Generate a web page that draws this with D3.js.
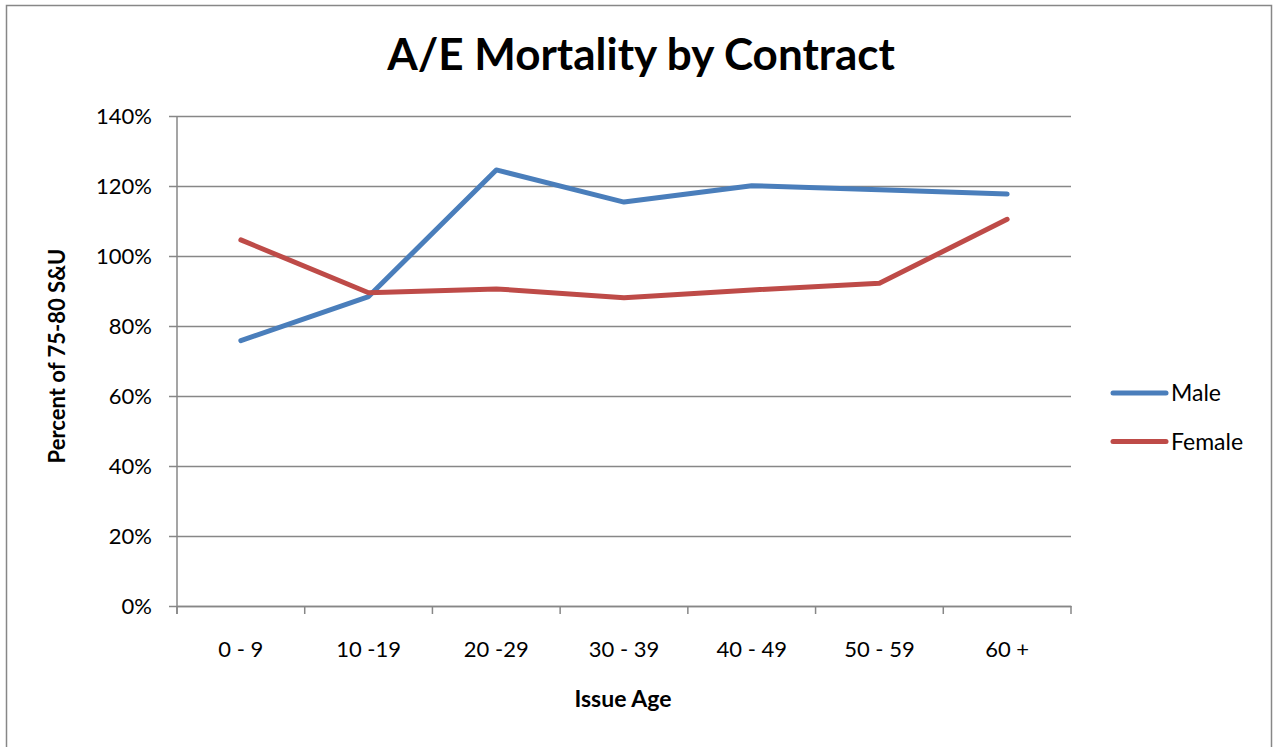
<!DOCTYPE html>
<html>
<head>
<meta charset="utf-8">
<script src="https://cdn.jsdelivr.net/npm/d3@7"></script>
<style>
  body { margin: 0; background: #fff; }
  svg text { font-family: Lato, "Open Sans", sans-serif; fill: #000; }
</style>
</head>
<body>
<div id="chart"></div>
<script>
// chart data
var ageGroups = ["0 - 9", "10 -19", "20 -29", "30 - 39", "40 - 49", "50 - 59", "60 +"];
var maleValues = [75.8, 88.4, 124.6, 115.4, 120.1, 118.9, 117.7];
var femaleValues = [104.6, 89.5, 90.6, 88.1, 90.3, 92.2, 110.5];
var yTicks = [0, 20, 40, 60, 80, 100, 120, 140];

var W = 1277, H = 747;
var margin = {top: 116, right: 206, bottom: 141, left: 177};
var width = W - margin.left - margin.right,
    height = H - margin.top - margin.bottom;

var svg = d3.select("#chart").append("svg")
  .attr("width", W)
  .attr("height", H);

// outer frame
svg.append("rect")
  .attr("x", 6.5).attr("y", 5.5)
  .attr("width", 1265).attr("height", 760)
  .attr("fill", "none")
  .attr("stroke", "#878787")
  .attr("stroke-width", 1.5);

var g = svg.append("g")
  .attr("transform", "translate(" + margin.left + "," + margin.top + ")");

var x = d3.scaleBand().domain(ageGroups).range([0, width]);
var y = d3.scaleLinear().domain([0, 140]).range([height, 0]);

// horizontal gridlines + y axis
var yAxis = g.append("g")
  .call(d3.axisLeft(y).tickValues(yTicks).tickSize(-width).tickPadding(25)
    .tickFormat(function(d){ return d + "%"; }));
yAxis.select(".domain").remove();
yAxis.selectAll(".tick line")
  .attr("x1", -8)
  .attr("stroke", "#878787").attr("stroke-width", 1.5);
yAxis.selectAll("text").style("font-size", "22px");

// x axis
var xAxis = g.append("g")
  .attr("transform", "translate(0," + height + ")")
  .call(d3.axisBottom(x).tickSize(0).tickPadding(35));
xAxis.select(".domain").attr("stroke", "#878787").attr("stroke-width", 1.5);
xAxis.selectAll("text").style("font-size", "22px");

// tick marks at band edges
g.selectAll(".xtick")
  .data(ageGroups.concat([null]))
  .enter().append("line")
  .attr("x1", function(d, i){ return i * x.step(); })
  .attr("x2", function(d, i){ return i * x.step(); })
  .attr("y1", height).attr("y2", height + 8)
  .attr("stroke", "#878787").attr("stroke-width", 1.5);

// y axis line
g.append("line")
  .attr("x1", 0).attr("x2", 0).attr("y1", 0).attr("y2", height + 8)
  .attr("stroke", "#878787").attr("stroke-width", 1.5);

var line = d3.line()
  .x(function(d, i){ return x(ageGroups[i]) + x.bandwidth() / 2; })
  .y(function(d){ return y(d); });

var series = [
  {name: "Male", values: maleValues, color: "#4A7EBB"},
  {name: "Female", values: femaleValues, color: "#BE4B48"}
];

g.selectAll(".series")
  .data(series)
  .enter().append("path")
  .attr("d", function(d){ return line(d.values); })
  .attr("fill", "none")
  .attr("stroke", function(d){ return d.color; })
  .attr("stroke-width", 5)
  .attr("stroke-linecap", "round")
  .attr("stroke-linejoin", "round");

// title
svg.append("text")
  .attr("x", 641).attr("y", 70)
  .attr("text-anchor", "middle")
  .style("font-size", "44px").style("font-weight", "bold")
  .text("A/E Mortality by Contract");

// axis titles
svg.append("text")
  .attr("transform", "translate(65,356) rotate(-90)")
  .attr("text-anchor", "middle")
  .style("font-size", "22px").style("font-weight", "bold")
  .text("Percent of 75-80 S&U");

svg.append("text")
  .attr("x", 623).attr("y", 707)
  .attr("text-anchor", "middle")
  .style("font-size", "23px").style("font-weight", "bold")
  .text("Issue Age");

// legend
var legend = svg.selectAll(".legend")
  .data(series)
  .enter().append("g")
  .attr("transform", function(d, i){ return "translate(1113," + (393 + i * 48.5) + ")"; });
legend.append("line")
  .attr("x1", 0).attr("x2", 53)
  .attr("stroke", function(d){ return d.color; })
  .attr("stroke-width", 5)
  .attr("stroke-linecap", "round");
legend.append("text")
  .attr("x", 58).attr("y", 8)
  .style("font-size", "23px")
  .text(function(d){ return d.name; });
</script>
</body>
</html>
